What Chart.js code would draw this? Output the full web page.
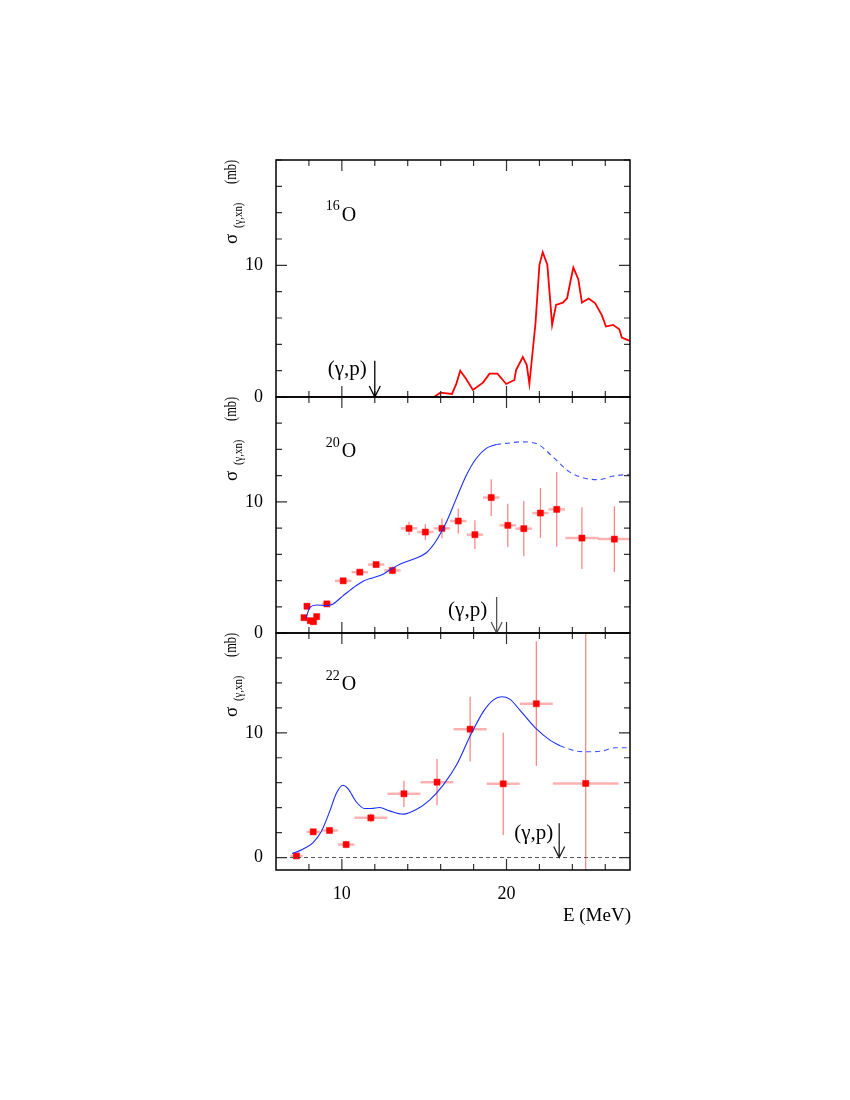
<!DOCTYPE html>
<html>
<head>
<meta charset="utf-8">
<script src="https://cdn.jsdelivr.net/npm/chart.js@4.4.0/dist/chart.umd.min.js"></script>
<style>
  html, body { margin: 0; padding: 0; background: #fff; }
  body { width: 850px; height: 1100px; position: relative; overflow: hidden; }
  canvas { position: absolute; left: 0; }
</style>
</head>
<body>
<canvas id="panel16" width="850" height="289" style="top:134px"></canvas>
<canvas id="panel20" width="850" height="288" style="top:371px"></canvas>
<canvas id="panel22" width="850" height="346" style="top:607px"></canvas>
<script>
// --- axes ---
const E_MIN = 6, E_MAX = 27.5;
const xTicks = [8, 10, 12, 14, 16, 18, 20, 22, 24, 26];
const xLabeled = [10, 20];
const yTicks = [0, 2, 4, 6, 8, 10, 12, 14, 16, 18];
const yLabeled = [0, 10];

// --- 16O : measured curve ---
const o16Energy = [8, 15.6, 15.98, 16.69, 16.95, 17.19, 17.52, 17.96, 18.57, 18.97, 19.45, 19.98,
  20.48, 20.58, 20.99, 21.23, 21.39, 21.76, 22.0, 22.2, 22.48, 22.77, 23.01, 23.42, 23.68, 23.86,
  24.06, 24.36, 24.58, 24.99, 25.39, 25.8, 26.04, 26.48, 26.85, 27.0, 27.45];
const o16Sigma = [0, 0, 0.33, 0.23, 0.99, 2.0, 1.42, 0.53, 1.09, 1.77, 1.77, 0.99,
  1.29, 2.05, 3.04, 2.43, 0.99, 5.6, 10.04, 11.0, 10.04, 5.48, 7.0, 7.17, 7.5, 8.64,
  9.83, 8.95, 7.17, 7.48, 7.12, 6.18, 5.35, 5.48, 5.15, 4.51, 4.28];

// --- 20O : data points ---
const o20Energy = [7.70, 7.88, 8.08, 8.28, 8.47, 9.09, 10.08, 11.09, 12.08, 13.07, 14.08, 15.07,
  16.08, 17.07, 18.08, 19.07, 20.08, 21.05, 22.06, 23.05, 24.58, 26.55];
const o20Sigma = [1.17, 2.04, 0.94, 0.86, 1.25, 2.22, 3.98, 4.64, 5.22, 4.77, 7.98, 7.70,
  7.98, 8.54, 7.50, 10.33, 8.21, 7.96, 9.15, 9.43, 7.24, 7.16];
const o20EnergyErr = [0, 0, 0, 0, 0, 0.3, 0.5, 0.5, 0.5, 0.5, 0.5, 0.5,
  0.5, 0.5, 0.5, 0.5, 0.5, 0.5, 0.5, 0.5, 1.0, 1.0];
const o20SigmaErr = [0.1, 0.1, 0.1, 0.1, 0.1, 0.1, 0.15, 0.15, 0.2, 0.3, 0.5, 0.6,
  0.75, 0.95, 1.1, 1.4, 1.65, 2.1, 1.9, 2.85, 2.35, 2.5];
// 20O : calculation (solid, then dashed above the (g,p) threshold)
const o20CalcEnergy = [7.82, 8.06, 8.47, 9.07, 9.47, 10.08, 10.69, 11.29, 11.9, 12.4, 12.9, 13.52,
  14.32, 15.13, 15.74, 16.35, 16.95, 17.56, 18.16, 18.77, 19.37];
const o20CalcSigma = [1.12, 1.96, 2.14, 2.09, 2.22, 2.85, 3.45, 3.95, 4.22, 4.42, 4.8, 5.25,
  5.62, 6.12, 7.06, 8.46, 10.25, 12.03, 13.31, 14.08, 14.38];
const o20TailEnergy = [19.37, 19.98, 20.89, 21.8, 22.81, 23.82, 24.83, 25.64, 26.44, 27.45];
const o20TailSigma = [14.38, 14.46, 14.58, 14.46, 13.44, 12.29, 11.78, 11.7, 11.96, 12.11];

// --- 22O : data points ---
const o22Energy = [7.24, 8.26, 9.25, 10.26, 11.76, 13.77, 15.78, 17.79, 19.80, 21.81, 24.81];
const o22Sigma = [0.13, 2.06, 2.17, 1.04, 3.18, 5.11, 6.04, 10.29, 5.91, 12.33, 5.94];
const o22EnergyErr = [0.37, 0.4, 0.5, 0.5, 1.0, 1.0, 1.0, 1.0, 1.0, 1.0, 2.0];
const o22SigmaErr = [0.2, 0.25, 0.25, 0.3, 0.35, 1.05, 1.85, 2.6, 4.1, 5.0, 12.0];
// 22O : calculation
const o22CalcEnergy = [6.98, 7.63, 8.24, 8.74, 9.25, 9.66, 10.06, 10.37, 10.87, 11.38, 11.78, 12.29,
  12.9, 13.71, 14.52, 15.33, 16.15, 16.96, 17.77, 18.58, 19.19, 19.70, 20.2, 20.81, 21.42, 21.83,
  22.64, 23.25];
const o22CalcSigma = [0.32, 0.67, 1.18, 2.06, 3.66, 5.13, 5.8, 5.53, 4.47, 3.93, 3.93, 4.01,
  3.74, 3.48, 3.85, 4.6, 5.8, 7.41, 9.68, 11.68, 12.62, 12.89, 12.7, 11.82, 10.88, 10.29,
  9.41, 8.96];
const o22TailEnergy = [23.25, 24.26, 24.97, 25.78, 26.59, 27.4];
const o22TailSigma = [8.96, 8.53, 8.48, 8.53, 8.8, 8.8];

const SERIF = "'Liberation Serif', 'Times New Roman', serif";
const RED = '#ff0000';
const BLUE = '#1a2cff';

function toXY(xs, ys) {
  return xs.map((e, i) => ({ x: e, y: ys[i] }));
}

// frame, inner ticks, labels, (g,p) arrow, error bars
const panelDecor = {
  id: 'panelDecor',
  beforeDatasetsDraw(chart, args, opts) {
    if (!opts.err) return;
    const { ctx, chartArea: a, scales: { x, y } } = chart;
    const err = opts.err;
    ctx.save();
    ctx.beginPath();
    ctx.rect(a.left, a.top, a.width, a.height);
    ctx.clip();
    err.e.forEach((e, i) => {
      const px = x.getPixelForValue(e), py = y.getPixelForValue(err.s[i]);
      if (err.de[i] > 0) {
        ctx.strokeStyle = 'rgba(255,60,60,0.4)';
        ctx.lineWidth = 2.5;
        ctx.beginPath();
        ctx.moveTo(x.getPixelForValue(e - err.de[i]), py);
        ctx.lineTo(x.getPixelForValue(e + err.de[i]), py);
        ctx.stroke();
      }
      ctx.strokeStyle = 'rgba(255,40,40,0.6)';
      ctx.lineWidth = 1.2;
      ctx.beginPath();
      ctx.moveTo(px, y.getPixelForValue(err.s[i] - err.ds[i]));
      ctx.lineTo(px, y.getPixelForValue(err.s[i] + err.ds[i]));
      ctx.stroke();
    });
    ctx.restore();
  },
  afterDraw(chart, args, opts) {
    const { ctx, chartArea: a, scales: { x, y } } = chart;
    ctx.save();

    // ticks on all four sides, pointing inward
    ctx.strokeStyle = '#333';
    ctx.lineWidth = 1.2;
    ctx.beginPath();
    yTicks.forEach(v => {
      const py = y.getPixelForValue(v);
      const len = yLabeled.includes(v) ? 11 : 6;
      ctx.moveTo(a.left, py); ctx.lineTo(a.left + len, py);
      ctx.moveTo(a.right - len, py); ctx.lineTo(a.right, py);
    });
    xTicks.forEach(v => {
      const px = x.getPixelForValue(v);
      const len = xLabeled.includes(v) ? 11 : 6;
      ctx.moveTo(px, a.top); ctx.lineTo(px, a.top + len);
      ctx.moveTo(px, a.bottom - len); ctx.lineTo(px, a.bottom);
    });
    ctx.stroke();

    ctx.strokeStyle = '#000';
    ctx.lineWidth = 1.5;
    ctx.strokeRect(a.left, a.top, a.width, a.height);

    ctx.fillStyle = '#000';
    ctx.textBaseline = 'alphabetic';

    // y title: sigma_(g,xn) (mb), rotated
    const pieces = [
      { text: 'σ', size: 19, start: 84, base: 237, sx: 1 },
      { text: '(γ,xn)', size: 12, start: 68, base: 242, sx: 0.9 },
      { text: '(mb)', size: 16, start: 24, base: 236, sx: 0.78 }
    ];
    pieces.forEach(p => {
      ctx.save();
      ctx.translate(p.base, a.top + p.start);
      ctx.rotate(-Math.PI / 2);
      ctx.scale(p.sx, 1);
      ctx.font = p.size + 'px ' + SERIF;
      ctx.textAlign = 'left';
      ctx.fillText(p.text, 0, 0);
      ctx.restore();
    });

    // isotope label
    const ox = x.getPixelForValue(10), oy = y.getPixelForValue(13.4);
    ctx.font = '20px ' + SERIF;
    ctx.textAlign = 'left';
    ctx.fillText('O', ox, oy);
    ctx.font = '14px ' + SERIF;
    ctx.textAlign = 'right';
    ctx.fillText(opts.mass, ox - 2, oy - 10.5);

    // (g,p) threshold arrow
    const gp = opts.gp;
    const ax = x.getPixelForValue(gp.e);
    const y0 = y.getPixelForValue(0), y1 = y.getPixelForValue(2.75);
    ctx.strokeStyle = gp.color;
    ctx.lineWidth = 1.3;
    ctx.beginPath();
    ctx.moveTo(ax, y1); ctx.lineTo(ax, y0);
    ctx.moveTo(ax - 5.5, y0 - 11); ctx.lineTo(ax, y0); ctx.lineTo(ax + 5.5, y0 - 11);
    ctx.stroke();
    ctx.font = '21px ' + SERIF;
    ctx.textAlign = 'right';
    ctx.fillText('(γ,p)', ax - gp.gap, y.getPixelForValue(gp.textY));

    if (opts.xTitle) {
      ctx.font = '19px ' + SERIF;
      ctx.textAlign = 'right';
      ctx.fillText('E (MeV)', a.right + 1, a.bottom + 51);
    }
    ctx.restore();
  }
};

function makePanel(id, yMin, datasets, decor, showX) {
  return new Chart(document.getElementById(id), {
    type: 'scatter',
    data: { datasets: datasets },
    options: {
      responsive: false,
      animation: false,
      events: [],
      layout: { padding: { top: 26, right: 220, left: 0, bottom: showX ? 43 : 26 } },
      plugins: { legend: { display: false }, tooltip: { enabled: false }, panelDecor: decor },
      scales: {
        x: {
          type: 'linear', min: E_MIN, max: E_MAX, display: showX,
          afterBuildTicks: s => { s.ticks = xTicks.map(v => ({ value: v })); },
          afterFit: s => { s.height = showX ? 40 : 0; },
          grid: { display: false, drawTicks: false },
          border: { display: false },
          ticks: {
            autoSkip: false, maxRotation: 0, padding: 13, color: '#000',
            font: { family: SERIF, size: 18 },
            callback: v => (xLabeled.includes(v) ? String(v) : '')
          }
        },
        y: {
          type: 'linear', min: yMin, max: 18,
          afterBuildTicks: s => { s.ticks = yTicks.map(v => ({ value: v })); },
          afterFit: s => { s.width = 276; },
          grid: { display: false, drawTicks: false },
          border: { display: false },
          ticks: {
            autoSkip: false, padding: 13, color: '#000',
            font: { family: SERIF, size: 18 },
            callback: v => (yLabeled.includes(v) ? String(v) : '')
          }
        }
      }
    },
    plugins: [panelDecor]
  });
}

function curve(xs, ys, color, width, dash) {
  return {
    data: toXY(xs, ys), showLine: true, pointRadius: 0, borderColor: color,
    borderWidth: width, borderDash: dash || [], cubicInterpolationMode: 'monotone'
  };
}

function squares(xs, ys) {
  return {
    data: toXY(xs, ys), showLine: false, pointStyle: 'rect', pointRadius: 4.3,
    backgroundColor: RED, borderColor: RED, borderWidth: 0.5
  };
}

makePanel('panel16', 0, [
  { data: toXY(o16Energy, o16Sigma), showLine: true, pointRadius: 0, borderColor: RED, borderWidth: 1.8, tension: 0 }
], { mass: '16', gp: { e: 12.0, gap: 8, textY: 1.67, color: '#000' } }, false);

makePanel('panel20', 0, [
  curve(o20CalcEnergy, o20CalcSigma, BLUE, 1.1),
  curve(o20TailEnergy, o20TailSigma, '#3a55ff', 1.1, [5, 4]),
  squares(o20Energy, o20Sigma)
], {
  mass: '20', gp: { e: 19.4, gap: 9.5, textY: 1.3, color: '#555' },
  err: { e: o20Energy, s: o20Sigma, de: o20EnergyErr, ds: o20SigmaErr }
}, false);

makePanel('panel22', -1, [
  { data: toXY([E_MIN, E_MAX], [0, 0]), showLine: true, pointRadius: 0, borderColor: '#555', borderWidth: 1, borderDash: [4, 3] },
  curve(o22CalcEnergy, o22CalcSigma, BLUE, 1.1),
  curve(o22TailEnergy, o22TailSigma, '#3a55ff', 1.1, [5, 4]),
  squares(o22Energy, o22Sigma)
], {
  mass: '22', gp: { e: 23.2, gap: 6, textY: 1.5, color: '#222' }, xTitle: true,
  err: { e: o22Energy, s: o22Sigma, de: o22EnergyErr, ds: o22SigmaErr }
}, true);
</script>
</body>
</html>
